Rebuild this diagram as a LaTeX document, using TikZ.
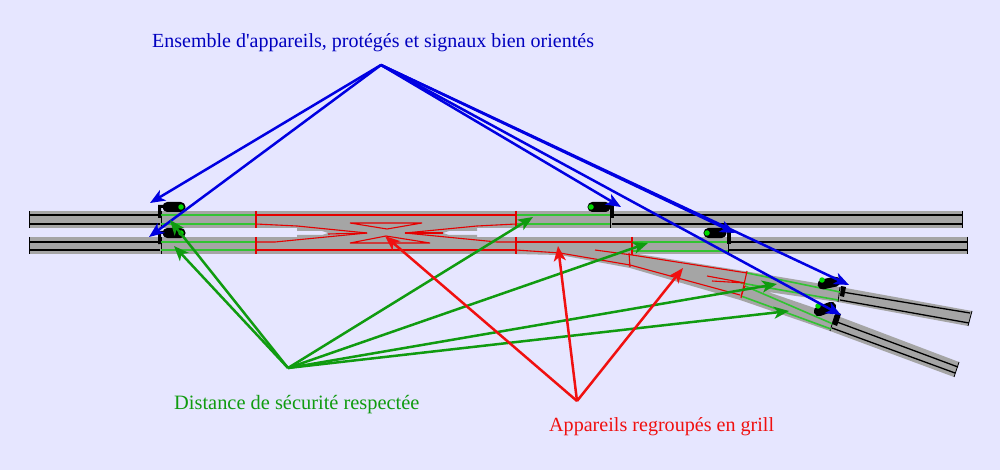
\documentclass[tikz,border=0pt]{standalone}
\usepackage{fontspec}
\setmainfont{Liberation Serif}[Ligatures=TeXOff]
\usetikzlibrary{arrows.meta}
\definecolor{pagebg}{RGB}{230,230,255}
\definecolor{ballast}{RGB}{165,165,165}
\definecolor{safegreen}{RGB}{50,195,50}
\definecolor{arrowgreen}{RGB}{16,155,16}
\definecolor{arrowblue}{RGB}{0,0,225}
\definecolor{arrowred}{RGB}{240,16,16}
\newcommand{\signalpill}[4]{% x, y, angle, name
    \node[sigbody, rotate=#3] (#4) at (#1,#2) {};
}

\begin{document}
\begin{tikzpicture}[x=1pt, y=-1pt,
        sigbody/.style={draw=none, fill=black, rounded corners=4.8pt, minimum width=23pt, minimum height=10pt, inner sep=0pt},
        sigdot/.style={fill=green!85!black, circle, inner sep=0pt, minimum size=5.5pt},
        blackrail/.style={draw=black, line width=1.3pt},
        greenrail/.style={draw=safegreen, line width=1.6pt},
        redrail/.style={draw=red!90!black, line width=1.1pt},
        blueline/.style={draw=arrowblue, line width=2.5pt, -{Stealth[length=15pt,width=12pt,inset=4pt]}},
        greenline/.style={draw=arrowgreen, line width=2.5pt, -{Stealth[length=15pt,width=12pt,inset=4pt]}},
        redline/.style={draw=arrowred, line width=2.5pt, -{Stealth[length=15pt,width=12pt,inset=4pt]}},
        lbl/.style={inner sep=0pt, anchor=base west}]

    \fill[pagebg] (0,0) rectangle (1000,470);
    \useasboundingbox (0,0) rectangle (1000,470);

    % ballast
    \fill[ballast] (29,211) rectangle (962,228);
    \fill[ballast] (29,237) rectangle (967,254);
    \fill[ballast] (297,227) -- (297,231) -- (322,231) -- (328,233) -- (322,235) -- (297,235) -- (297,238)
        -- (477,238) -- (477,235) -- (449,235) -- (443,233) -- (449,231) -- (477,231) -- (477,227) -- cycle;
    \fill[ballast] (516,253) -- (516,254) -- (560,255) -- (630,268) -- (740,300) -- (830,331) -- (835,315)
        -- (768,292) -- (838,302) -- (840,287) -- (750,272) -- (632,253) -- cycle;
    \fill[ballast] (838,302) -- (840,287) -- (972,311) -- (968,326) -- cycle;
    \fill[ballast] (830,331) -- (835,315) -- (959,362) -- (954,377) -- cycle;

    % black rails
    \draw[blackrail] (29,215) -- (160,215) (29,224) -- (160,224);
    \draw[blackrail] (29,242) -- (160,242) (29,250) -- (160,250);
    \draw[blackrail] (612,215) -- (962,215) (612,224) -- (962,224);
    \draw[blackrail] (729,242) -- (967,242) (729,250) -- (967,250);
    \draw[blackrail] (842,292) -- (970,313) (840,300) -- (969,323);
    \draw[blackrail] (837,322) -- (958,367) (832,328) -- (955,373);
    \draw[blackrail, line width=.8pt] (29,211) -- (29,228) (29,237) -- (29,254);
    \draw[blackrail, line width=.8pt] (161,211) -- (161,228) (161,237) -- (161,254);
    \draw[blackrail, line width=.8pt] (610,211) -- (610,228) (728,237) -- (728,254);
    \draw[blackrail, line width=.8pt] (962,211) -- (962,228) (967,237) -- (967,254);
    \draw[blackrail, line width=.8pt] (972,311) -- (968,326) (959,362) -- (954,377);
    \draw[blackrail, line width=.8pt] (840,287) -- (838,302) (835,315) -- (830,331);

    % green rails
    \draw[greenrail] (161,215) -- (256,215) (161,224) -- (256,224);
    \draw[greenrail] (161,242) -- (256,242) (161,250) -- (256,250);
    \draw[greenrail] (516,215) -- (610,215) (516,224) -- (610,224);
    \draw[greenrail] (632,242) -- (728,242) (632,251) -- (728,251);
    \draw[greenrail] (747,273) -- (840,292) (741,283) -- (838,300);
    \draw[greenrail] (745,286) -- (833,324) (741,296) -- (831,329);

    % red rails
    \draw[redrail] (256,211) -- (256,228) (256,237) -- (256,254) (516,211) -- (516,228) (516,237) -- (516,254);
    \draw[redrail] (256,215) -- (516,215) (256,250) -- (516,250);
    \draw[redrail] (256,224) -- (297,226) -- (367,233) -- (275,242) -- (256,242);
    \draw[redrail] (328,234) -- (367,233);
    \draw[redrail] (516,224) -- (477,226) -- (405,233) -- (497,242) -- (516,242);
    \draw[redrail] (443,233) -- (405,233);
    \draw[redrail] (350,223) -- (422,223) -- (387,229) -- cycle;
    \draw[redrail] (350,243) -- (430,243) -- (386,236) -- cycle;
    \draw[redrail] (516,242) -- (632,242) (632,237) -- (632,255);
    \draw[redrail] (516,250) -- (560,253) -- (630,265) -- (740,295);
    \draw[redrail] (595,250) -- (632,255) -- (747,273);
    \draw[redrail] (629,253) -- (630,267) (747,271) -- (741,298);
    \draw[redrail] (707,276) -- (745,283) -- (712,281) (745,286) -- (741,296);

    % signals
    \signalpill{174}{207}{0}{sigA}
    \signalpill{174}{233}{0}{sigB}
    \signalpill{599}{207}{0}{sigC}
    \signalpill{715}{233}{0}{sigD}
    \signalpill{829}{283}{12}{sigE}
    \signalpill{825}{309}{20}{sigF}
    \node[sigdot] (dotA) at (181,207) {};
    \node[sigdot] (dotB) at (181,233) {};
    \node[sigdot] (dotC) at (591,207) {};
    \node[sigdot] (dotD) at (707,233) {};
    \node[sigdot] (dotE) at (822,280) {};
    \node[sigdot] (dotF) at (818,306) {};
    \fill (158,205) rectangle (163,208) (158,205) rectangle (161,218);
    \fill (158,231) rectangle (163,234) (158,231) rectangle (161,244);
    \fill (610,205) rectangle (614,218);
    \fill (727,231) rectangle (731,244);
    \fill (841,286) -- (846,287) -- (844,297) -- (840,296) -- cycle;
    \fill (836,312) -- (841,314) -- (837,326) -- (832,324) -- cycle;

    % labels
    \node[lbl, text=arrowblue!85!black, font=\fontsize{20}{22}\selectfont] (lblBlue) at (152,48) {Ensemble d'appareils, protégés et signaux bien orientés};
    \node[lbl, text=arrowgreen, font=\fontsize{20.4}{22}\selectfont] (lblGreen) at (174,409) {Distance de sécurité respectée};
    \node[lbl, text=arrowred, font=\fontsize{20.1}{22}\selectfont] (lblRed) at (549,431) {Appareils regroupés en grill};

    % arrows
    \coordinate (blueHub) at (381,65);
    \coordinate (greenHub) at (288,368);
    \coordinate (redHub) at (577,401);
    \foreach \name/\pos in {b1/{150,203}, b2/{149,237}, b3/{621,207}, b4/{735,233}, b5/{849,285}, b6/{841,315}}
        \draw[blueline] (blueHub) -- (\pos);
    \foreach \name/\pos in {g1/{170,220}, g2/{174,246}, g3/{533,217}, g4/{648,243}, g5/{777,284}, g6/{789,311}}
        \draw[greenline] (greenHub) -- (\pos);
    \foreach \name/\pos in {r1/{385,236}, r2/{558,246}, r3/{683,268}}
        \draw[redline] (redHub) -- (\pos);
\end{tikzpicture}
\end{document}
